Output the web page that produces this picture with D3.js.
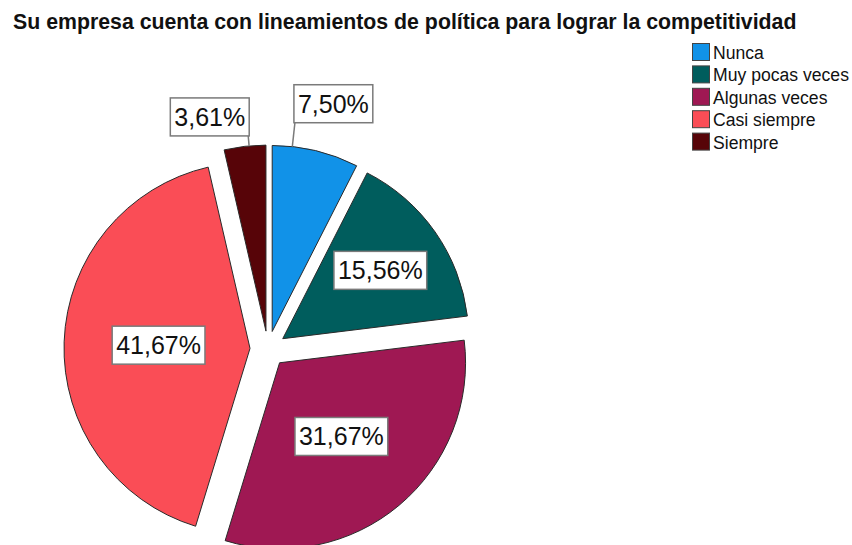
<!DOCTYPE html>
<html>
<head>
<meta charset="utf-8">
<script src="https://cdn.jsdelivr.net/npm/d3@7"></script>
<style>
  body { margin: 0; background: #fff; }
  text { font-family: "Liberation Sans", Arial, sans-serif; }
</style>
</head>
<body>
<svg id="chart" width="852" height="545"></svg>
<script>
// Data
const categories = ["Nunca", "Muy pocas veces", "Algunas veces", "Casi siempre", "Siempre"];
const percents = [7.50, 15.56, 31.67, 41.67, 3.61];
const colors = ["#1192e8", "#005d5d", "#9f1853", "#fa4d56", "#570408"];
const title = "Su empresa cuenta con lineamientos de política para lograr la competitividad";

// Layout
const width = 852, height = 545;
const cx = 268, cy = 349;
const radius = 186;
const explode = 18;

const svg = d3.select("#chart");

const esFormat = d3.formatLocale({ decimal: ",", thousands: ".", grouping: [3], currency: ["", "€"] })
  .format(".2f");

// Title, fitted to the reference width
const titleText = svg.append("text")
  .attr("x", 13)
  .attr("y", 29)
  .attr("font-weight", "bold")
  .attr("font-size", 17)
  .attr("fill", "#111")
  .text(title);
const tLen = titleText.node().getComputedTextLength();
titleText.attr("font-size", 17 * 784 / tLen);

// Pie
const pie = d3.pie().sort(null).value(d => d.value);
const arcs = pie(categories.map((c, i) => ({ name: c, value: percents[i], color: colors[i] })));
const arc = d3.arc().innerRadius(0).outerRadius(radius);

const mid = d => (d.startAngle + d.endAngle) / 2;
const shift = d => [Math.sin(mid(d)) * explode, -Math.cos(mid(d)) * explode];

const g = svg.append("g").attr("transform", `translate(${cx},${cy})`);

g.selectAll("path.slice")
  .data(arcs)
  .join("path")
    .attr("class", "slice")
    .attr("transform", d => `translate(${shift(d)})`)
    .attr("d", arc)
    .attr("fill", d => d.data.color)
    .attr("stroke", "#2a2a2a")
    .attr("stroke-width", 1);

// Labels
const labelFont = 25;
const padX = 4, boxH = 38;
// outside labels: right-hand ones sit higher on a longer leader
const outside = {
  right: { angleFactor: 0.46, leader: 24 },
  left: { angleFactor: 0.8, leader: 10 }
};

function addBox(parent, txt) {
  const lg = parent.append("g");
  const rect = lg.append("rect")
    .attr("fill", "#fff")
    .attr("stroke", "#7a7a7a")
    .attr("stroke-width", 1.5);
  const t = lg.append("text")
    .attr("font-size", labelFont)
    .attr("fill", "#111")
    .attr("text-anchor", "middle")
    .text(txt);
  const w = t.node().getComputedTextLength() + padX * 2;
  return { lg, rect, t, w };
}

arcs.forEach(d => {
  const [sx, sy] = shift(d);
  const txt = esFormat(d.data.value) + "%";
  if (d.data.value >= 10) {
    // sector centroid
    const half = (d.endAngle - d.startAngle) / 2;
    const dist = 2 * radius * Math.sin(half) / (3 * half) * (d.data.value > 30 && d.data.value < 40 ? 0.92 : 1);
    const x = sx + Math.sin(mid(d)) * dist;
    const y = sy - Math.cos(mid(d)) * dist;
    const b = addBox(g, txt);
    b.rect.attr("x", x - b.w / 2).attr("y", y - boxH / 2).attr("width", b.w).attr("height", boxH);
    b.t.attr("x", x).attr("y", y + 9);
  } else {
    // outside label with a leader line
    let m = mid(d);
    if (m > Math.PI) m -= 2 * Math.PI;
    const side = m >= 0 ? outside.right : outside.left;
    const a = m * side.angleFactor;
    const x0 = sx + Math.sin(a) * radius, y0 = sy - Math.cos(a) * radius;
    const x1 = sx + Math.sin(a) * (radius + side.leader), y1 = sy - Math.cos(a) * (radius + side.leader);
    g.append("line")
      .attr("x1", x0).attr("y1", y0).attr("x2", x1).attr("y2", y1)
      .attr("stroke", "#7a7a7a").attr("stroke-width", 1.5);
    const b = addBox(g, txt);
    const left = m >= 0 ? x1 - 1 : x1 - b.w + 1;
    b.rect.attr("x", left).attr("y", y1 - boxH).attr("width", b.w).attr("height", boxH);
    b.t.attr("x", left + b.w / 2).attr("y", y1 - boxH / 2 + 9);
  }
});

// Legend
const legend = svg.append("g").attr("transform", "translate(692,43)");
const rowH = 22.4;
const items = legend.selectAll("g")
  .data(categories)
  .join("g")
    .attr("transform", (d, i) => `translate(0,${i * rowH})`);
items.append("rect")
  .attr("x", 0.5).attr("y", 0.5)
  .attr("width", 17).attr("height", 17)
  .attr("fill", (d, i) => colors[i])
  .attr("stroke", "#444")
  .attr("stroke-width", 1);
const legTexts = items.append("text")
  .attr("x", 21)
  .attr("y", 16)
  .attr("font-size", 16)
  .attr("fill", "#111")
  .text(d => d);
// match width of the longest entry to the reference
const longest = legTexts.filter(d => d === "Muy pocas veces").node().getComputedTextLength();
legTexts.attr("font-size", 16 * 136 / longest);
</script>
</body>
</html>
